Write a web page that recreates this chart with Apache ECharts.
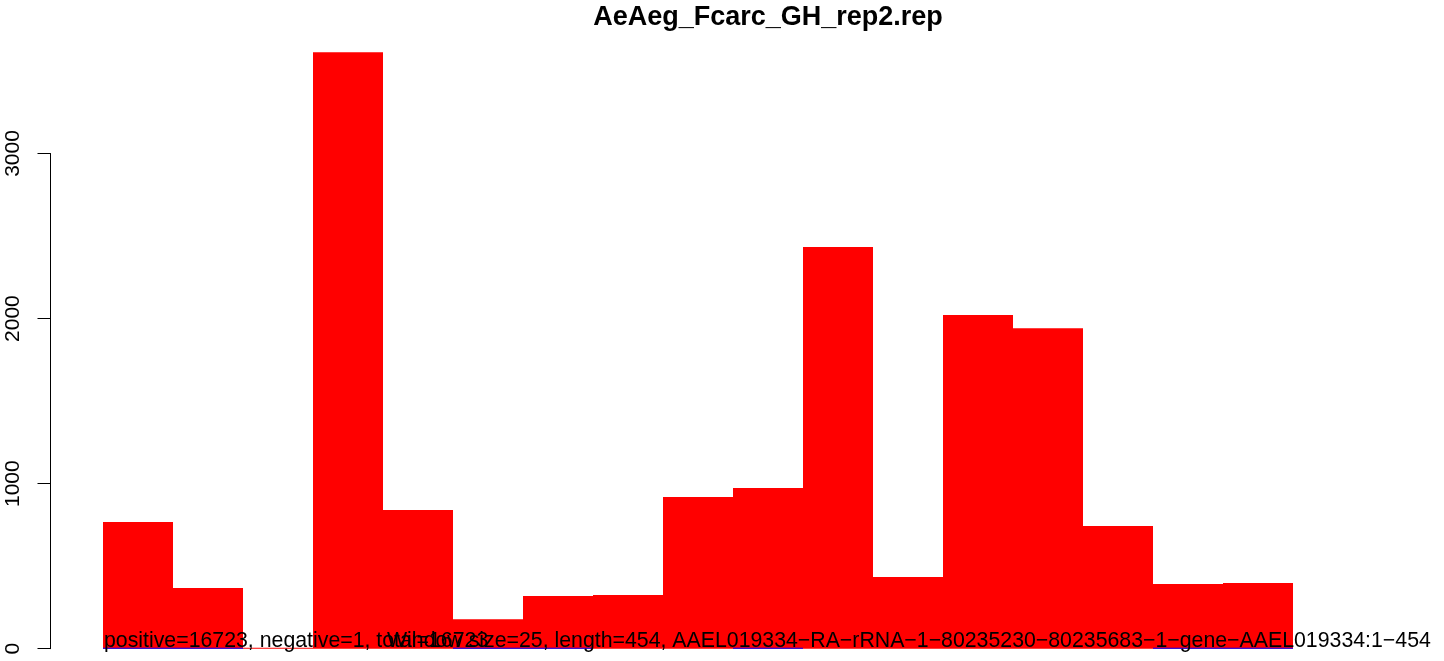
<!DOCTYPE html>
<html>
<head>
<meta charset="utf-8">
<title>AeAeg_Fcarc_GH_rep2.rep</title>
<script src="https://cdn.jsdelivr.net/npm/echarts@6/dist/echarts.min.js"></script>
<style>
  html, body { margin: 0; padding: 0; background: #ffffff; }
  #chart { width: 1444px; height: 661px; }
</style>
</head>
<body>
<div id="chart"></div>
<script>
// Read counts per 25-nt window along the transcript
const windows = ['1', '2', '3', '4', '5', '6', '7', '8', '9', '10', '11', '12', '13', '14', '15', '16', '17'];
const positiveCounts = [767, 368, 0, 3614, 840, 178, 319, 325, 919, 973, 2433, 434, 2021, 1942, 743, 392, 398];
// negative-strand windows: drawn as thin marks on the baseline
const negativeCounts = [0, 0, null, null, null, 0, 0, null, null, 0, null, null, null, null, null, 0, 0];
const yTicks = [0, 1000, 2000, 3000];

const titleText = 'AeAeg_Fcarc_GH_rep2.rep';
const summaryText = 'positive=16723, negative=1, total=16723';
const infoText = 'Window size=25, length=454, AAEL019334\u2212RA\u2212rRNA\u22121\u221280235230\u221280235683\u22121\u2212gene\u2212AAEL019334:1\u2212454';

const FONT = '"Liberation Sans", Arial, Helvetica, sans-serif';

const chart = echarts.init(document.getElementById('chart'), null, { renderer: 'canvas' });

chart.setOption({
  backgroundColor: '#ffffff',
  animation: false,
  // 17 windows x 70 px: bar edges fall on whole pixels
  grid: { left: 103, top: 153.5, width: 1190, bottom: 12.3, containLabel: false },
  xAxis: {
    type: 'category',
    data: windows,
    boundaryGap: true,
    axisLine: { show: false },
    axisTick: { show: false },
    axisLabel: { show: false },
    splitLine: { show: false }
  },
  yAxis: {
    type: 'value',
    min: yTicks[0],
    max: yTicks[yTicks.length - 1],
    interval: 1000,
    offset: 52.5,
    axisLine: { show: true, lineStyle: { color: '#000000', width: 1 } },
    axisTick: { show: true, inside: false, length: 13, lineStyle: { color: '#000000', width: 1 } },
    axisLabel: {
      show: true,
      rotate: 90,
      margin: 27,
      color: '#000000',
      fontSize: 21,
      fontFamily: FONT,
      formatter: function (v) { return String(v); }
    },
    splitLine: { show: false }
  },
  series: [
    {
      name: 'positive',
      type: 'bar',
      data: positiveCounts,
      barCategoryGap: '0%',
      barGap: '-100%',
      barMinHeight: 1,
      clip: false,
      itemStyle: { color: '#ff0000' },
      emphasis: { disabled: true }
    },
    {
      name: 'negative',
      type: 'bar',
      data: negativeCounts,
      barCategoryGap: '0%',
      barGap: '-100%',
      barMinHeight: 1,
      clip: false,
      itemStyle: { color: '#0000ff' },
      emphasis: { disabled: true }
    }
  ],
  graphic: [
    {
      type: 'text',
      z: 100,
      x: 768,
      y: 18,
      style: {
        text: titleText,
        font: 'bold 27px ' + FONT,
        fill: '#000000',
        textAlign: 'center',
        textVerticalAlign: 'middle'
      }
    },
    {
      type: 'text',
      z: 100,
      x: 104,
      y: 641,
      style: {
        text: summaryText,
        font: '21.3px ' + FONT,
        fill: '#000000',
        textAlign: 'left',
        textVerticalAlign: 'middle'
      }
    },
    {
      type: 'text',
      z: 100,
      x: 387,
      y: 641,
      style: {
        text: infoText,
        font: '21.3px ' + FONT,
        fill: '#000000',
        textAlign: 'left',
        textVerticalAlign: 'middle'
      }
    }
  ]
});
</script>
</body>
</html>
